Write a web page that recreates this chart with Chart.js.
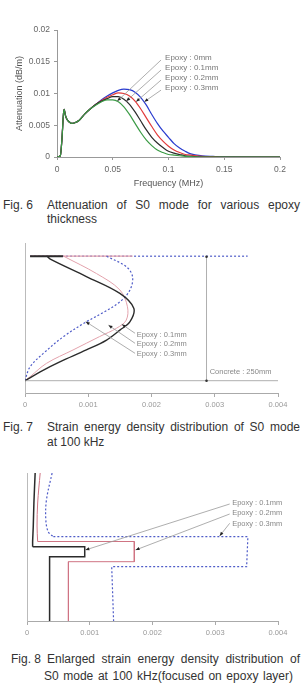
<!DOCTYPE html>
<html>
<head>
<meta charset="utf-8">
<script src="https://cdn.jsdelivr.net/npm/chart.js@4/dist/chart.umd.min.js"></script>
<style>
html, body { margin: 0; padding: 0; background: #fff; }
body { width: 302px; height: 695px; position: relative; overflow: hidden; font-family: "Liberation Sans", Arial, sans-serif; color: #333; }
canvas { position: absolute; left: 0; }
.fig { position: absolute; font-size: 12px; line-height: 14px; white-space: nowrap; }
.txt { position: absolute; font-size: 12px; line-height: 14px; text-align: justify; text-align-last: justify; }
.last { text-align-last: left; }
</style>
</head>
<body>
<canvas id="fig6" width="302" height="192" style="top:0"></canvas>
<div class="fig" style="left:3px; top:198px">Fig. 6</div>
<div class="txt" style="left:47px; width:253px; top:198px">Attenuation of S0 mode for various epoxy</div>
<div class="txt last" style="left:47px; width:253px; top:212px">thickness</div>

<canvas id="fig7" width="302" height="185" style="top:230px"></canvas>
<div class="fig" style="left:3px; top:420px">Fig. 7</div>
<div class="txt" style="left:47px; width:253px; top:420px">Strain energy density distribution of S0 mode</div>
<div class="txt last" style="left:47px; width:253px; top:435px">at 100 kHz</div>

<canvas id="fig8" width="302" height="190" style="top:455px"></canvas>
<div class="fig" style="left:11px; top:652px">Fig. 8</div>
<div class="txt" style="left:47px; width:253px; top:652px">Enlarged strain energy density distribution of</div>
<div class="txt" style="left:44px; width:249px; top:669px">S0 mode at 100 kHz(focused on epoxy layer)</div>

<script>
// ---- Fig. 6: attenuation vs frequency ----
const fig6Freq = [0, 0.003, 0.0045, 0.0058, 0.0065, 0.0075, 0.009, 0.011, 0.013, 0.016, 0.02, 0.025, 0.03, 0.035,
    0.04, 0.045, 0.05, 0.055, 0.06, 0.065, 0.07, 0.075, 0.08, 0.085, 0.09, 0.095, 0.1, 0.105, 0.11, 0.115, 0.12, 0.13, 0.14, 0.15, 0.2];
const att0mm = [0, 0.0002, 0.003, 0.0068, 0.0075, 0.0066, 0.0059, 0.0055, 0.0053, 0.0054, 0.0058, 0.0068, 0.0076, 0.0083,
    0.0090, 0.0096, 0.0101, 0.0105, 0.0107, 0.0106, 0.0102, 0.0094, 0.0082, 0.0067, 0.0053, 0.0041, 0.0031, 0.0021, 0.0014, 0.0009, 0.0005, 0.0002, 0.0001, 0.00003, 0];
const att01mm = [0, 0.0002, 0.003, 0.0068, 0.0075, 0.0066, 0.0059, 0.0055, 0.0053, 0.0054, 0.0058, 0.0068, 0.0076, 0.0083,
    0.0089, 0.0094, 0.0098, 0.0101, 0.0100, 0.0096, 0.0088, 0.0076, 0.0062, 0.0048, 0.0035, 0.0025, 0.0017, 0.0011, 0.0007, 0.0004, 0.0003, 0.0001, 0.00005, 0, 0];
const att02mm = [0, 0.0002, 0.003, 0.0068, 0.0075, 0.0066, 0.0059, 0.0055, 0.0053, 0.0054, 0.0058, 0.0068, 0.0076, 0.0083,
    0.0088, 0.0092, 0.0095, 0.0095, 0.0091, 0.0083, 0.0071, 0.0057, 0.0043, 0.0031, 0.0022, 0.0015, 0.0009, 0.0006, 0.0004, 0.0002, 0.0001, 0, 0, 0, 0];
const att03mm = [0, 0.0002, 0.003, 0.0068, 0.0075, 0.0066, 0.0059, 0.0055, 0.0053, 0.0054, 0.0058, 0.0068, 0.0076, 0.0082,
    0.0087, 0.0090, 0.0090, 0.0087, 0.0079, 0.0067, 0.0053, 0.0039, 0.0027, 0.0018, 0.0011, 0.0007, 0.0004, 0.0003, 0.0002, 0.0001, 0.00005, 0, 0, 0, 0];
const fig6Labels = ["Epoxy : 0mm", "Epoxy : 0.1mm", "Epoxy : 0.2mm", "Epoxy : 0.3mm"];
const fig6XTicks = [0, 0.05, 0.1, 0.15, 0.2];
const fig6YTicks = [0, 0.005, 0.01, 0.015, 0.02];

// ---- Fig. 7: strain energy density vs height in concrete (mm) ----
const fig7TopH = 251;                       // epoxy layer at top surface
const fig7TopStart = 0.00008;
const fig7TopEnd = [0.0006, 0.0017, 0.00352];   // 0.1, 0.2, 0.3 mm
const fig7BlackX = [0.00035, 0.0004, 0.00097, 0.0015, 0.00172, 0.00166, 0.0015, 0.00129, 0.00097, 0.00055, 0.00024, 0.00003, 0];
const fig7BlackH = [251, 245, 210, 176, 146, 119, 102, 82, 62, 38, 18, 2, 0];
const fig7PinkX = [0.00061, 0.00113, 0.0015, 0.00162, 0.0016, 0.00145, 0.00118, 0.00076, 0.00034, 0.00008, 0];
const fig7PinkH = [251, 216, 183, 149, 122, 106, 89, 62, 35, 8, 0];
const fig7BlueX = [0.00129, 0.0016, 0.0017, 0.00166, 0.0015, 0.00123, 0.00096, 0.00061, 0.00029, 0.00008, 0];
const fig7BlueH = [251, 230, 210, 183, 159, 137, 118, 89, 55, 28, 1];
const fig7Labels = ["Epoxy : 0.1mm", "Epoxy : 0.2mm", "Epoxy : 0.3mm"];
const strainTicks = [0, 0.001, 0.002, 0.003, 0.004];

// ---- Fig. 8: enlarged view around the epoxy layer ----
const fig8BlackCurveX = [0.00013, 0.00011, 0.0001, 0.00009, 0.00009];
const fig8BlackCurveH = [148, 118, 95, 80, 74.3];
const fig8BlackStepX = [0.00009, 0.00092, 0.00092, 0.00036, 0.00036];
const fig8BlackStepH = [74.3, 74.3, 64.3, 64.3, 0];
const fig8PinkCurveX = [0.00021, 0.00017, 0.00016, 0.00017];
const fig8PinkCurveH = [148, 118, 95, 79.5];
const fig8PinkStepX = [0.00017, 0.00171, 0.00171, 0.00066, 0.00066];
const fig8PinkStepH = [79.5, 79.5, 59.3, 59.3, 0];
const fig8BlueCurveX = [0.0004, 0.00031, 0.0003, 0.00034, 0.00042];
const fig8BlueCurveH = [148, 121, 101, 89, 84.3];
const fig8BlueStepX = [0.00042, 0.00352, 0.0035, 0.00135, 0.00138];
const fig8BlueStepH = [84.3, 84.3, 54.3, 54.3, 0];

const FONT = "'Liberation Sans', Arial, sans-serif";
const BLACK = "#2b2b2b", PINK = "#e3a2ac", PINK_DARK = "#cf7483", BLUE_DOT = "#4f5cc8";

const pts = (xs, ys) => xs.map((v, i) => ({ x: v, y: ys[i] }));
const fmt = v => String(+Number(v).toFixed(4));

function line(data, color, width, extra) {
    return Object.assign({ data, borderColor: color, borderWidth: width, pointRadius: 0, showLine: true, fill: false }, extra || {});
}

// draws leader lines, arrow tips and labels positioned in data units
function notesPlugin(notes) {
    return {
        id: "notes",
        afterDatasetsDraw(chart) {
            const { ctx } = chart;
            const sx = chart.scales.x, sy = chart.scales.y;
            ctx.save();
            ctx.strokeStyle = notes.color;
            ctx.fillStyle = notes.color;
            ctx.lineWidth = 0.8;
            (notes.lines || []).forEach(([x1, y1, x2, y2, tip]) => {
                const a = [sx.getPixelForValue(x1), sy.getPixelForValue(y1)];
                const b = [sx.getPixelForValue(x2), sy.getPixelForValue(y2)];
                ctx.beginPath();
                ctx.moveTo(a[0], a[1]);
                ctx.lineTo(b[0], b[1]);
                ctx.stroke();
                if (tip === "arrow") {
                    const ang = Math.atan2(b[1] - a[1], b[0] - a[0]);
                    ctx.save();
                    ctx.fillStyle = notes.tipColor || notes.color;
                    ctx.translate(b[0], b[1]);
                    ctx.rotate(ang);
                    ctx.beginPath();
                    ctx.moveTo(0, 0);
                    ctx.lineTo(-4, -1.6);
                    ctx.lineTo(-4, 1.6);
                    ctx.closePath();
                    ctx.fill();
                    ctx.restore();
                } else if (tip === "dots") {
                    ctx.save();
                    ctx.fillStyle = "#333";
                    [a, b].forEach(p => { ctx.beginPath(); ctx.arc(p[0], p[1], 1.3, 0, Math.PI * 2); ctx.fill(); });
                    ctx.restore();
                }
            });
            ctx.font = notes.font;
            ctx.textBaseline = "middle";
            ctx.fillStyle = notes.textColor || notes.color;
            (notes.texts || []).forEach(([tx, ty, text]) => {
                ctx.fillText(text, sx.getPixelForValue(tx), sy.getPixelForValue(ty));
            });
            ctx.restore();
        }
    };
}

function strainAxis(height) {
    return {
        type: "linear", min: 0, max: 0.004,
        afterBuildTicks: s => { s.ticks = strainTicks.map(v => ({ value: v })); },
        ticks: { color: "#999", font: { family: FONT, size: 7.5 }, padding: 3, callback: fmt, maxRotation: 0 },
        grid: { drawOnChartArea: false, drawTicks: true, tickLength: 4, color: "#aaa" },
        border: { color: "#aaa", width: 1 },
        afterFit: s => { s.height = height; }
    };
}

function heightAxis(min, max) {
    return {
        type: "linear", min, max,
        ticks: { display: false },
        grid: { display: false },
        border: { display: true, dash: [3, 3], color: "#bbb", width: 1 },
        afterFit: s => { s.width = 0; }
    };
}

const baseOptions = {
    responsive: false,
    animation: false,
    events: [],
    plugins: { legend: { display: false }, tooltip: { enabled: false } }
};

// ---------- Fig. 6 ----------
const fig6Series = [att0mm, att01mm, att02mm, att03mm];
const fig6Colors = ["#2a3ccf", "#e23b3b", "#2b2b2b", "#3b9b45"];

new Chart(document.getElementById("fig6"), {
    type: "scatter",
    data: {
        datasets: fig6Series.map((vals, i) => line(pts(fig6Freq, vals), fig6Colors[i], 1.2, {
            label: fig6Labels[i], cubicInterpolationMode: "monotone", order: 4 - i
        }))
    },
    options: Object.assign({}, baseOptions, {
        layout: { padding: { top: 30, right: 22, left: 0, bottom: 0 } },
        scales: {
            x: {
                type: "linear", min: 0, max: 0.2,
                afterBuildTicks: s => { s.ticks = fig6XTicks.map(v => ({ value: v })); },
                ticks: { color: "#666", font: { family: FONT, size: 8.5 }, padding: 5, callback: fmt, maxRotation: 0 },
                grid: { drawOnChartArea: false, tickLength: 3, color: "#999" },
                border: { color: "#999" },
                title: { display: true, text: "Frequency (MHz)", color: "#555", font: { family: FONT, size: 9 }, padding: { top: 0, bottom: 3 } },
                afterFit: s => { s.height = 35; }
            },
            y: {
                type: "linear", min: 0, max: 0.02,
                afterBuildTicks: s => { s.ticks = fig6YTicks.map(v => ({ value: v })); },
                ticks: { color: "#666", font: { family: FONT, size: 8.5 }, padding: 4, callback: fmt },
                grid: { drawOnChartArea: false, tickLength: 3, color: "#999" },
                border: { color: "#999" },
                title: { display: true, text: "Attenuation (dB/m)", color: "#555", font: { family: FONT, size: 9 }, padding: { top: 14, bottom: 0 } },
                afterFit: s => { s.width = 57; }
            }
        }
    }),
    plugins: [notesPlugin({
        color: "#999", tipColor: "#222", textColor: "#777",
        font: "8px " + FONT,
        lines: [
            [0.0933, 0.01527, 0.054, 0.0088, "arrow"],
            [0.0933, 0.01369, 0.0621, 0.0088, "arrow"],
            [0.0933, 0.01211, 0.0709, 0.0087, "arrow"],
            [0.0933, 0.01053, 0.0783, 0.0087, "arrow"]
        ],
        texts: fig6Labels.map((t, i) => [0.0969, [0.01563, 0.01411, 0.01253, 0.01089][i], t])
    })]
});

// ---------- Fig. 7 ----------
const fig7Top = fig7TopEnd.map(end => pts([fig7TopStart, end], [fig7TopH, fig7TopH]));

new Chart(document.getElementById("fig7"), {
    type: "scatter",
    data: {
        datasets: [
            line(pts(fig7BlackX, fig7BlackH), BLACK, 1.4, { tension: 0.35, order: 1 }),
            line(pts(fig7PinkX, fig7PinkH), PINK, 1, { tension: 0.35, order: 3 }),
            line(pts(fig7BlueX, fig7BlueH), BLUE_DOT, 1.2, { tension: 0.35, borderDash: [2, 2], order: 2 }),
            line(fig7Top[2], BLUE_DOT, 1.2, { borderDash: [2, 2], order: 5 }),
            line(fig7Top[1], PINK, 1.2, { order: 4 }),
            line(fig7Top[0], BLACK, 2, { order: 0 })
        ]
    },
    options: Object.assign({}, baseOptions, {
        layout: { padding: { top: 13, right: 24, left: 25, bottom: 0 } },
        scales: { x: strainAxis(22), y: heightAxis(-24.8, 277.6) }
    }),
    plugins: [notesPlugin({
        color: "#999", tipColor: "#222", textColor: "#888",
        font: "7.5px " + FONT,
        lines: [
            [0, 0, 0.004, 0],
            [0.00287, 250, 0.00287, 0, "dots"],
            [0.00174, 95.6, 0.00153, 113.7, "arrow"],
            [0.00174, 75.4, 0.00132, 112, "arrow"],
            [0.00174, 55.2, 0.00096, 119, "arrow"]
        ],
        texts: fig7Labels.map((t, i) => [0.001765, [92.1, 73.4, 53.2][i], t]).concat([[0.00292, 18, "Concrete : 250mm"]])
    })]
});

// ---------- Fig. 8 ----------
new Chart(document.getElementById("fig8"), {
    type: "scatter",
    data: {
        datasets: [
            line(pts(fig8BlackCurveX, fig8BlackCurveH), BLACK, 1.5, { tension: 0.35 }),
            line(pts(fig8BlackStepX, fig8BlackStepH), BLACK, 1.5),
            line(pts(fig8PinkCurveX, fig8PinkCurveH), PINK_DARK, 1, { tension: 0.35 }),
            line(pts(fig8PinkStepX, fig8PinkStepH), PINK_DARK, 1),
            line(pts(fig8BlueCurveX, fig8BlueCurveH), BLUE_DOT, 1.2, { tension: 0.35, borderDash: [2, 2] }),
            line(pts(fig8BlueStepX, fig8BlueStepH), BLUE_DOT, 1.2, { borderDash: [2, 2] })
        ]
    },
    options: Object.assign({}, baseOptions, {
        layout: { padding: { top: 18, right: 24, left: 27, bottom: 0 } },
        scales: { x: strainAxis(24), y: heightAxis(0, 148) }
    }),
    plugins: [notesPlugin({
        color: "#999", tipColor: "#222", textColor: "#888",
        font: "7.5px " + FONT,
        lines: [
            [0.00323, 117, 0.00093, 71, "arrow"],
            [0.00323, 107, 0.00173, 71, "arrow"],
            [0.00323, 97.7, 0.00307, 85, "arrow"]
        ],
        texts: fig7Labels.map((t, i) => [0.00327, [118.3, 107.7, 96.7][i], t])
    })]
});
</script>
</body>
</html>
